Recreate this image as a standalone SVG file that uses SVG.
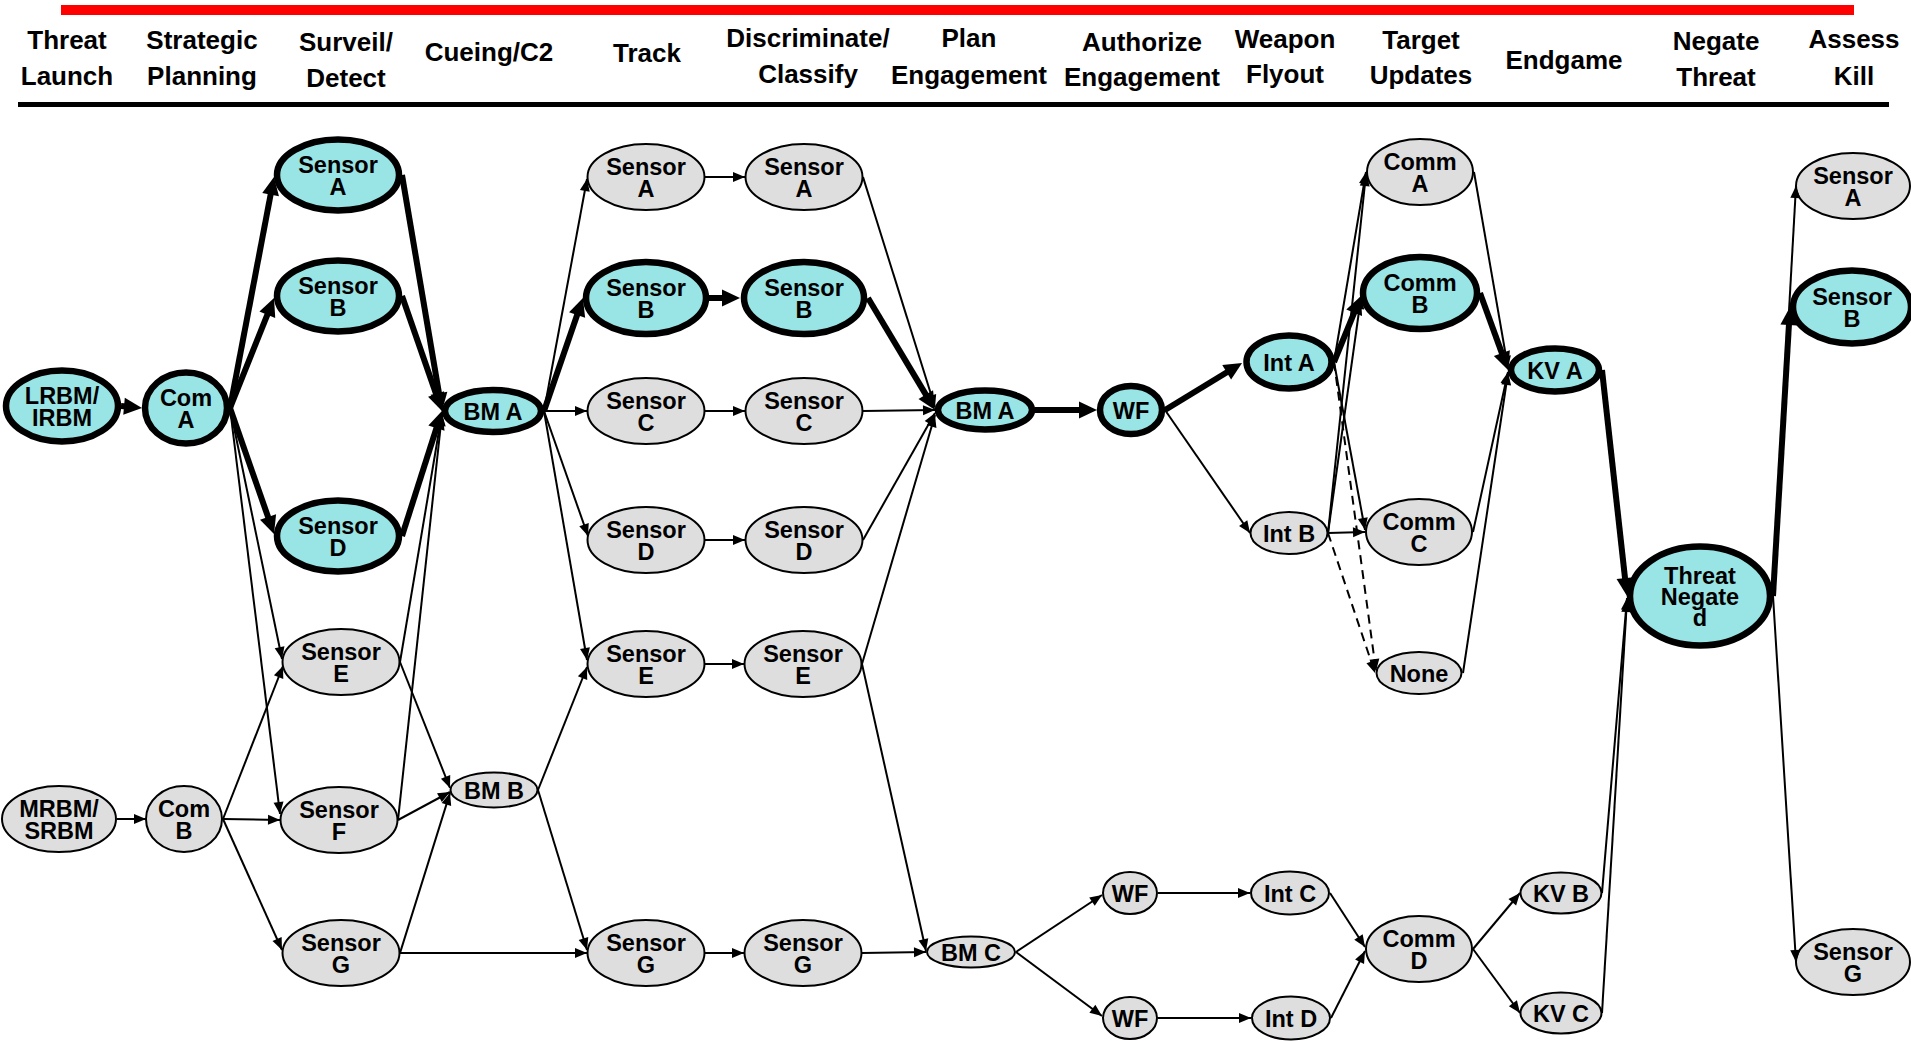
<svg xmlns="http://www.w3.org/2000/svg" width="1911" height="1041" viewBox="0 0 1911 1041">
  <defs>
    <style>
      .hdr { font-family: "Liberation Sans", Arial, sans-serif; font-weight: bold; font-size: 26px; text-anchor: middle; fill: #000; }
      .lbl { font-family: "Liberation Sans", Arial, sans-serif; font-weight: bold; font-size: 23.5px; text-anchor: middle; fill: #000; }
      .hi ellipse { fill: #99E4E4; stroke: #000; stroke-width: 6.5; }
      .lo ellipse { fill: #DEDEDE; stroke: #000; stroke-width: 2; }
      .e line { stroke: #000; stroke-width: 2; fill: none; marker-end: url(#at); }
      .e-hi line { stroke: #000; stroke-width: 6; fill: none; marker-end: url(#ah); }
      .e-dash line { stroke: #000; stroke-width: 2; stroke-dasharray: 9 6; fill: none; marker-end: url(#at); }
    </style>
    <!-- heavy arrowhead: tip sits 10 units past the line end -->
    <marker id="ah" markerUnits="userSpaceOnUse" markerWidth="18" markerHeight="17" refX="8" refY="8.5" orient="auto" overflow="visible">
      <path d="M0,0 L18,8.5 L0,17 z" fill="#000"/>
    </marker>
    <!-- light arrowhead: tip at the line end -->
    <marker id="at" markerUnits="userSpaceOnUse" markerWidth="12" markerHeight="10" refX="12" refY="5" orient="auto" overflow="visible">
      <path d="M0,0 L12,5 L0,10 z" fill="#000"/>
    </marker>
  </defs>

  <rect width="1911" height="1041" fill="#fff"/>

  <!-- title rules -->
  <rect x="61" y="5" width="1793" height="10" fill="#FF0000"/>
  <rect x="18" y="102" width="1871" height="5" fill="#000"/>

  <!-- stage headers -->
  <g id="headers" class="hdr">
    <text><tspan x="67" y="49">Threat</tspan><tspan x="67" y="85">Launch</tspan></text>
    <text><tspan x="202" y="49">Strategic</tspan><tspan x="202" y="85">Planning</tspan></text>
    <text><tspan x="346" y="51">Surveil/</tspan><tspan x="346" y="87">Detect</tspan></text>
    <text x="489" y="61">Cueing/C2</text>
    <text x="647" y="62">Track</text>
    <text><tspan x="808" y="47">Discriminate/</tspan><tspan x="808" y="83">Classify</tspan></text>
    <text><tspan x="969" y="47">Plan</tspan><tspan x="969" y="84">Engagement</tspan></text>
    <text><tspan x="1142" y="51">Authorize</tspan><tspan x="1142" y="86">Engagement</tspan></text>
    <text><tspan x="1285" y="48">Weapon</tspan><tspan x="1285" y="83">Flyout</tspan></text>
    <text><tspan x="1421" y="49">Target</tspan><tspan x="1421" y="84">Updates</tspan></text>
    <text x="1564" y="69">Endgame</text>
    <text><tspan x="1716" y="50">Negate</tspan><tspan x="1716" y="86">Threat</tspan></text>
    <text><tspan x="1854" y="48">Assess</tspan><tspan x="1854" y="85">Kill</tspan></text>
  </g>

  <!-- nodes -->
  <g id="launch-lrbm" class="hi"><ellipse cx="62" cy="406" rx="56" ry="35.5"/><text class="lbl"><tspan x="62" y="404">LRBM/</tspan><tspan x="62" y="425.5">IRBM</tspan></text></g>
  <g id="launch-mrbm" class="lo"><ellipse cx="59" cy="819" rx="57" ry="33"/><text class="lbl"><tspan x="59" y="817">MRBM/</tspan><tspan x="59" y="838.5">SRBM</tspan></text></g>
  <g id="plan-com-a" class="hi"><ellipse cx="186" cy="408" rx="41" ry="35.5"/><text class="lbl"><tspan x="186" y="406">Com</tspan><tspan x="186" y="427.5">A</tspan></text></g>
  <g id="plan-com-b" class="lo"><ellipse cx="184" cy="819" rx="38" ry="33"/><text class="lbl"><tspan x="184" y="817">Com</tspan><tspan x="184" y="838.5">B</tspan></text></g>

  <g id="detect-sensor-a" class="hi"><ellipse cx="338" cy="175" rx="61" ry="35.5"/><text class="lbl"><tspan x="338" y="173">Sensor</tspan><tspan x="338" y="194.5">A</tspan></text></g>
  <g id="detect-sensor-b" class="hi"><ellipse cx="338" cy="296" rx="61" ry="35.5"/><text class="lbl"><tspan x="338" y="294">Sensor</tspan><tspan x="338" y="315.5">B</tspan></text></g>
  <g id="detect-sensor-d" class="hi"><ellipse cx="338" cy="536" rx="61" ry="35.5"/><text class="lbl"><tspan x="338" y="534">Sensor</tspan><tspan x="338" y="555.5">D</tspan></text></g>
  <g id="detect-sensor-e" class="lo"><ellipse cx="341" cy="662" rx="58.5" ry="33"/><text class="lbl"><tspan x="341" y="660">Sensor</tspan><tspan x="341" y="681.5">E</tspan></text></g>
  <g id="detect-sensor-f" class="lo"><ellipse cx="339" cy="820" rx="58.5" ry="33"/><text class="lbl"><tspan x="339" y="818">Sensor</tspan><tspan x="339" y="839.5">F</tspan></text></g>
  <g id="detect-sensor-g" class="lo"><ellipse cx="341" cy="953" rx="58.5" ry="33"/><text class="lbl"><tspan x="341" y="951">Sensor</tspan><tspan x="341" y="972.5">G</tspan></text></g>

  <g id="cue-bm-a" class="hi"><ellipse cx="493" cy="411" rx="48" ry="21"/><text class="lbl" x="493" y="419.5">BM A</text></g>
  <g id="cue-bm-b" class="lo"><ellipse cx="494" cy="790" rx="43.5" ry="17.5"/><text class="lbl" x="494" y="798.5">BM B</text></g>

  <g id="track-sensor-a" class="lo"><ellipse cx="646" cy="177" rx="58.5" ry="33"/><text class="lbl"><tspan x="646" y="175">Sensor</tspan><tspan x="646" y="196.5">A</tspan></text></g>
  <g id="track-sensor-b" class="hi"><ellipse cx="646" cy="298" rx="60" ry="36"/><text class="lbl"><tspan x="646" y="296">Sensor</tspan><tspan x="646" y="317.5">B</tspan></text></g>
  <g id="track-sensor-c" class="lo"><ellipse cx="646" cy="411" rx="58.5" ry="33"/><text class="lbl"><tspan x="646" y="409">Sensor</tspan><tspan x="646" y="430.5">C</tspan></text></g>
  <g id="track-sensor-d" class="lo"><ellipse cx="646" cy="540" rx="58.5" ry="33"/><text class="lbl"><tspan x="646" y="538">Sensor</tspan><tspan x="646" y="559.5">D</tspan></text></g>
  <g id="track-sensor-e" class="lo"><ellipse cx="646" cy="664" rx="58.5" ry="33"/><text class="lbl"><tspan x="646" y="662">Sensor</tspan><tspan x="646" y="683.5">E</tspan></text></g>
  <g id="track-sensor-g" class="lo"><ellipse cx="646" cy="953" rx="58.5" ry="33"/><text class="lbl"><tspan x="646" y="951">Sensor</tspan><tspan x="646" y="972.5">G</tspan></text></g>

  <g id="classify-sensor-a" class="lo"><ellipse cx="804" cy="177" rx="58.5" ry="33"/><text class="lbl"><tspan x="804" y="175">Sensor</tspan><tspan x="804" y="196.5">A</tspan></text></g>
  <g id="classify-sensor-b" class="hi"><ellipse cx="804" cy="298" rx="60" ry="36"/><text class="lbl"><tspan x="804" y="296">Sensor</tspan><tspan x="804" y="317.5">B</tspan></text></g>
  <g id="classify-sensor-c" class="lo"><ellipse cx="804" cy="411" rx="58.5" ry="33"/><text class="lbl"><tspan x="804" y="409">Sensor</tspan><tspan x="804" y="430.5">C</tspan></text></g>
  <g id="classify-sensor-d" class="lo"><ellipse cx="804" cy="540" rx="58.5" ry="33"/><text class="lbl"><tspan x="804" y="538">Sensor</tspan><tspan x="804" y="559.5">D</tspan></text></g>
  <g id="classify-sensor-e" class="lo"><ellipse cx="803" cy="664" rx="58.5" ry="33"/><text class="lbl"><tspan x="803" y="662">Sensor</tspan><tspan x="803" y="683.5">E</tspan></text></g>
  <g id="classify-sensor-g" class="lo"><ellipse cx="803" cy="953" rx="58.5" ry="33"/><text class="lbl"><tspan x="803" y="951">Sensor</tspan><tspan x="803" y="972.5">G</tspan></text></g>

  <g id="engage-bm-a" class="hi"><ellipse cx="985" cy="410" rx="47" ry="19.5"/><text class="lbl" x="985" y="418.5">BM A</text></g>
  <g id="engage-bm-c" class="lo"><ellipse cx="971" cy="952" rx="44" ry="15.5"/><text class="lbl" x="971" y="960.5">BM C</text></g>

  <g id="flyout-wf-a" class="hi"><ellipse cx="1131" cy="410" rx="31" ry="24"/><text class="lbl" x="1131" y="418.5">WF</text></g>
  <g id="flyout-wf-b" class="lo"><ellipse cx="1130" cy="893" rx="27" ry="21"/><text class="lbl" x="1130" y="901.5">WF</text></g>
  <g id="flyout-wf-c" class="lo"><ellipse cx="1130" cy="1018" rx="27" ry="21"/><text class="lbl" x="1130" y="1026.5">WF</text></g>

  <g id="int-a" class="hi"><ellipse cx="1289" cy="362" rx="42.5" ry="26.5"/><text class="lbl" x="1289" y="370.5">Int A</text></g>
  <g id="int-b" class="lo"><ellipse cx="1289" cy="533" rx="38.5" ry="21"/><text class="lbl" x="1289" y="541.5">Int B</text></g>
  <g id="int-c" class="lo"><ellipse cx="1290" cy="893" rx="39" ry="21.5"/><text class="lbl" x="1290" y="901.5">Int C</text></g>
  <g id="int-d" class="lo"><ellipse cx="1291" cy="1018" rx="39" ry="21.5"/><text class="lbl" x="1291" y="1026.5">Int D</text></g>

  <g id="comm-a" class="lo"><ellipse cx="1420" cy="172" rx="53" ry="33"/><text class="lbl"><tspan x="1420" y="170">Comm</tspan><tspan x="1420" y="191.5">A</tspan></text></g>
  <g id="comm-b" class="hi"><ellipse cx="1420" cy="293" rx="57" ry="36"/><text class="lbl"><tspan x="1420" y="291">Comm</tspan><tspan x="1420" y="312.5">B</tspan></text></g>
  <g id="comm-c" class="lo"><ellipse cx="1419" cy="532" rx="53" ry="33"/><text class="lbl"><tspan x="1419" y="530">Comm</tspan><tspan x="1419" y="551.5">C</tspan></text></g>
  <g id="comm-none" class="lo"><ellipse cx="1419" cy="673" rx="42.5" ry="21"/><text class="lbl" x="1419" y="681.5">None</text></g>
  <g id="comm-d" class="lo"><ellipse cx="1419" cy="949" rx="53" ry="33"/><text class="lbl"><tspan x="1419" y="947">Comm</tspan><tspan x="1419" y="968.5">D</tspan></text></g>

  <g id="kv-a" class="hi"><ellipse cx="1555" cy="370" rx="44" ry="21.5"/><text class="lbl" x="1555" y="378.5">KV A</text></g>
  <g id="kv-b" class="lo"><ellipse cx="1561" cy="893" rx="40.5" ry="20.5"/><text class="lbl" x="1561" y="901.5">KV B</text></g>
  <g id="kv-c" class="lo"><ellipse cx="1561" cy="1013" rx="40.5" ry="20.5"/><text class="lbl" x="1561" y="1021.5">KV C</text></g>

  <g id="threat-negated" class="hi"><ellipse cx="1700" cy="596" rx="70" ry="49.5"/><text class="lbl"><tspan x="1700" y="584">Threat</tspan><tspan x="1700" y="605">Negate</tspan><tspan x="1700" y="626">d</tspan></text></g>

  <g id="assess-sensor-a" class="lo"><ellipse cx="1853" cy="186" rx="57" ry="33"/><text class="lbl"><tspan x="1853" y="184">Sensor</tspan><tspan x="1853" y="205.5">A</tspan></text></g>
  <g id="assess-sensor-b" class="hi"><ellipse cx="1852" cy="307" rx="59" ry="36.5"/><text class="lbl"><tspan x="1852" y="305">Sensor</tspan><tspan x="1852" y="326.5">B</tspan></text></g>
  <g id="assess-sensor-g" class="lo"><ellipse cx="1853" cy="962" rx="57" ry="33"/><text class="lbl"><tspan x="1853" y="960">Sensor</tspan><tspan x="1853" y="981.5">G</tspan></text></g>

  <!-- connectors -->
  <g id="connectors">
    <g id="links-light" class="e">
      <line x1="117" y1="819" x2="146" y2="819"/>
      <line x1="230" y1="408" x2="282" y2="659"/>
      <line x1="230" y1="408" x2="280" y2="814"/>
      <line x1="223" y1="819" x2="283" y2="666"/>
      <line x1="223" y1="819" x2="280" y2="820"/>
      <line x1="223" y1="819" x2="282" y2="950"/>
      <line x1="400" y1="662" x2="442" y2="413"/>
      <line x1="398" y1="820" x2="442" y2="414"/>
      <line x1="400" y1="662" x2="450" y2="788"/>
      <line x1="398" y1="820" x2="450" y2="792"/>
      <line x1="400" y1="953" x2="450" y2="793"/>
      <line x1="400" y1="953" x2="587" y2="953"/>
      <line x1="544" y1="411" x2="587" y2="179"/>
      <line x1="544" y1="411" x2="587" y2="411"/>
      <line x1="544" y1="411" x2="588" y2="536"/>
      <line x1="544" y1="411" x2="587" y2="660"/>
      <line x1="538" y1="790" x2="587" y2="667"/>
      <line x1="538" y1="790" x2="587" y2="950"/>
      <line x1="705" y1="177" x2="745" y2="177"/>
      <line x1="705" y1="411" x2="745" y2="411"/>
      <line x1="705" y1="540" x2="745" y2="540"/>
      <line x1="705" y1="664" x2="744" y2="664"/>
      <line x1="705" y1="953" x2="744" y2="953"/>
      <line x1="863" y1="177" x2="935" y2="407"/>
      <line x1="863" y1="411" x2="935" y2="410"/>
      <line x1="863" y1="540" x2="935" y2="413"/>
      <line x1="862" y1="664" x2="935" y2="415"/>
      <line x1="862" y1="664" x2="926" y2="951"/>
      <line x1="862" y1="953" x2="926" y2="952"/>
      <line x1="1016" y1="952" x2="1102" y2="895"/>
      <line x1="1016" y1="952" x2="1102" y2="1016"/>
      <line x1="1158" y1="893" x2="1250" y2="893"/>
      <line x1="1158" y1="1018" x2="1251" y2="1018"/>
      <line x1="1330" y1="893" x2="1365" y2="947"/>
      <line x1="1331" y1="1018" x2="1365" y2="951"/>
      <line x1="1473" y1="949" x2="1520" y2="893"/>
      <line x1="1473" y1="949" x2="1520" y2="1013"/>
      <line x1="1602" y1="893" x2="1627" y2="598"/>
      <line x1="1602" y1="1013" x2="1627" y2="600"/>
      <line x1="1165" y1="410" x2="1250" y2="533"/>
      <line x1="1334" y1="362" x2="1366" y2="172"/>
      <line x1="1334" y1="362" x2="1365" y2="530"/>
      <line x1="1328" y1="533" x2="1366" y2="174"/>
      <line x1="1328" y1="533" x2="1361" y2="297"/>
      <line x1="1328" y1="533" x2="1365" y2="532"/>
      <line x1="1474" y1="172" x2="1508" y2="368"/>
      <line x1="1473" y1="532" x2="1508" y2="372"/>
      <line x1="1463" y1="673" x2="1508" y2="373"/>
      <line x1="1773" y1="596" x2="1796" y2="186"/>
      <line x1="1773" y1="596" x2="1796" y2="962"/>
    </g>
    <g id="links-none" class="e-dash">
      <line x1="1334" y1="362" x2="1376" y2="671"/>
      <line x1="1328" y1="533" x2="1375" y2="673"/>
    </g>
    <g id="links-heavy" class="e-hi">
      <line x1="121" y1="406" x2="132" y2="407"/>
      <line x1="230" y1="408" x2="272.1" y2="186.8"/>
      <line x1="230" y1="408" x2="270.3" y2="307.3"/>
      <line x1="230" y1="408" x2="270.7" y2="524.6"/>
      <line x1="402" y1="175" x2="440.3" y2="401.1"/>
      <line x1="402" y1="296" x2="438.7" y2="401.6"/>
      <line x1="402" y1="536" x2="438.9" y2="420.5"/>
      <line x1="544" y1="411" x2="579.7" y2="307.5"/>
      <line x1="709" y1="298" x2="730" y2="298"/>
      <line x1="868" y1="298" x2="929.9" y2="401.4"/>
      <line x1="1035" y1="410" x2="1087" y2="410"/>
      <line x1="1165" y1="410" x2="1233.5" y2="368.2"/>
      <line x1="1334" y1="362" x2="1357.2" y2="305.3"/>
      <line x1="1480" y1="293" x2="1504.6" y2="360.6"/>
      <line x1="1602" y1="370" x2="1625.9" y2="586.1"/>
      <line x1="1773" y1="596" x2="1789.4" y2="317"/>
    </g>
  </g>
</svg>
